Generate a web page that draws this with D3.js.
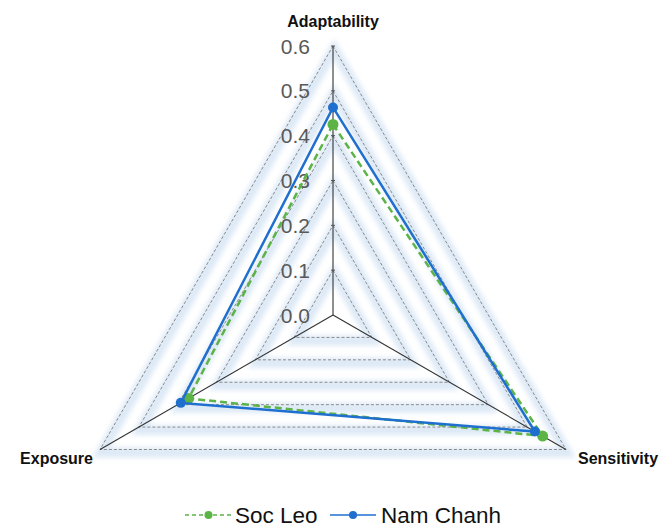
<!DOCTYPE html>
<html><head><meta charset="utf-8">
<script src="https://cdn.jsdelivr.net/npm/d3@7"></script>
<style>body{margin:0;background:#fff}svg{display:block}</style>
</head><body>
<script>
const axes = ["Adaptability", "Sensitivity", "Exposure"];
const tickValues = [0.0, 0.1, 0.2, 0.3, 0.4, 0.5, 0.6];
const tickLabels = ["0.0", "0.1", "0.2", "0.3", "0.4", "0.5", "0.6"];
const seriesNames = ["Soc Leo", "Nam Chanh"];
const socLeo = [0.425, 0.54, 0.372];
const namChanh = [0.463, 0.52, 0.392];

const W = 661, H = 530, cx = 333, cy = 315;
const svg = d3.select("body").append("svg").attr("width", W).attr("height", H);
const defs = svg.append("defs");
defs.append("filter").attr("id", "blur").attr("x", "-20%").attr("y", "-20%").attr("width", "140%").attr("height", "140%")
  .append("feGaussianBlur").attr("stdDeviation", 2.5);

const r = d3.scaleLinear().domain([0, 0.6]).range([0, 269]);
const angle = d3.scalePoint().domain(axes).range([0, 2 * Math.PI * 2 / 3]);
function pt(a, v) { const t = angle(a); return [cx + r(v) * Math.sin(t), cy - r(v) * Math.cos(t)]; }

const g = svg.append("g");
const levels = tickValues.filter(v => v > 0);
// glow bands
g.selectAll("path.glow").data(levels).join("path")
  .attr("d", v => "M" + axes.map(a => pt(a, v)).join("L") + "Z")
  .attr("fill", "none").attr("stroke", "#dde9f6").attr("stroke-width", 10)
  .attr("transform", "translate(1,3)").attr("filter", "url(#blur)");
// dashed grid
g.selectAll("path.grid").data(levels).join("path")
  .attr("d", v => "M" + axes.map(a => pt(a, v)).join("L") + "Z")
  .attr("fill", "none").attr("stroke", "#8a8a8a").attr("stroke-width", 1).attr("stroke-dasharray", "3,2");
// axes
g.selectAll("line.axis").data(axes).join("line")
  .attr("x1", cx).attr("y1", cy)
  .attr("x2", a => pt(a, 0.6)[0]).attr("y2", a => pt(a, 0.6)[1])
  .attr("stroke", "#333").attr("stroke-width", 1.1);
// ticks on vertical axis
g.selectAll("line.tick").data(levels).join("line")
  .attr("x1", cx - 2).attr("x2", cx + 2)
  .attr("y1", v => pt(axes[0], v)[1]).attr("y2", v => pt(axes[0], v)[1])
  .attr("stroke", "#555").attr("stroke-width", 1);
// tick labels
g.selectAll("text.tl").data(tickValues).join("text")
  .attr("x", 310).attr("y", v => pt(axes[0], v)[1]).attr("dy", "0.36em")
  .attr("text-anchor", "end").attr("font-family", "Liberation Sans, Arial, sans-serif")
  .attr("font-size", 21).attr("fill", "#595959").text((v, i) => tickLabels[i]);
// axis labels
const lab = [
  {a: "Adaptability", x: 333, y: 27, anchor: "middle"},
  {a: "Sensitivity", x: 578, y: 464, anchor: "start"},
  {a: "Exposure", x: 93, y: 464, anchor: "end"}
];
g.selectAll("text.al").data(lab).join("text")
  .attr("x", d => d.x).attr("y", d => d.y).attr("text-anchor", d => d.anchor)
  .attr("font-family", "Liberation Sans, Arial, sans-serif").attr("font-weight", "bold")
  .attr("font-size", 16).attr("fill", "#111").text(d => d.a);

const series = [
  {name: seriesNames[0], vals: socLeo, color: "#5cb346", dash: "7,4", mr: 5.5},
  {name: seriesNames[1], vals: namChanh, color: "#1f6fcf", dash: null, mr: 5}
];
series.forEach(s => {
  const pts = axes.map((a, i) => pt(a, s.vals[i]));
  g.append("path").attr("d", d3.line()(pts) + "Z").attr("fill", "none")
    .attr("stroke", s.color).attr("stroke-width", 2.5).attr("stroke-dasharray", s.dash);
  g.selectAll(null).data(pts).join("circle").attr("cx", d => d[0]).attr("cy", d => d[1])
    .attr("r", s.mr).attr("fill", s.color);
});

// legend
const leg = svg.append("g").attr("font-family", "Liberation Sans, Arial, sans-serif");
const ly = 515;
const legItems = [
  {s: series[0], x0: 185, x1: 232, tx: 235},
  {s: series[1], x0: 330, x1: 376, tx: 381}
];
legItems.forEach(d => {
  leg.append("line").attr("x1", d.x0).attr("x2", d.x1).attr("y1", ly).attr("y2", ly)
    .attr("stroke", d.s.color).attr("stroke-width", 1.5).attr("stroke-dasharray", d.s.dash ? "4,3" : null);
  leg.append("circle").attr("cx", (d.x0 + d.x1) / 2).attr("cy", ly).attr("r", 4).attr("fill", d.s.color);
  leg.append("text").attr("x", d.tx).attr("y", ly).attr("dy", "0.36em").attr("font-size", 22.5)
    .attr("fill", "#111").text(d.s.name);
});
</script>
</body></html>
